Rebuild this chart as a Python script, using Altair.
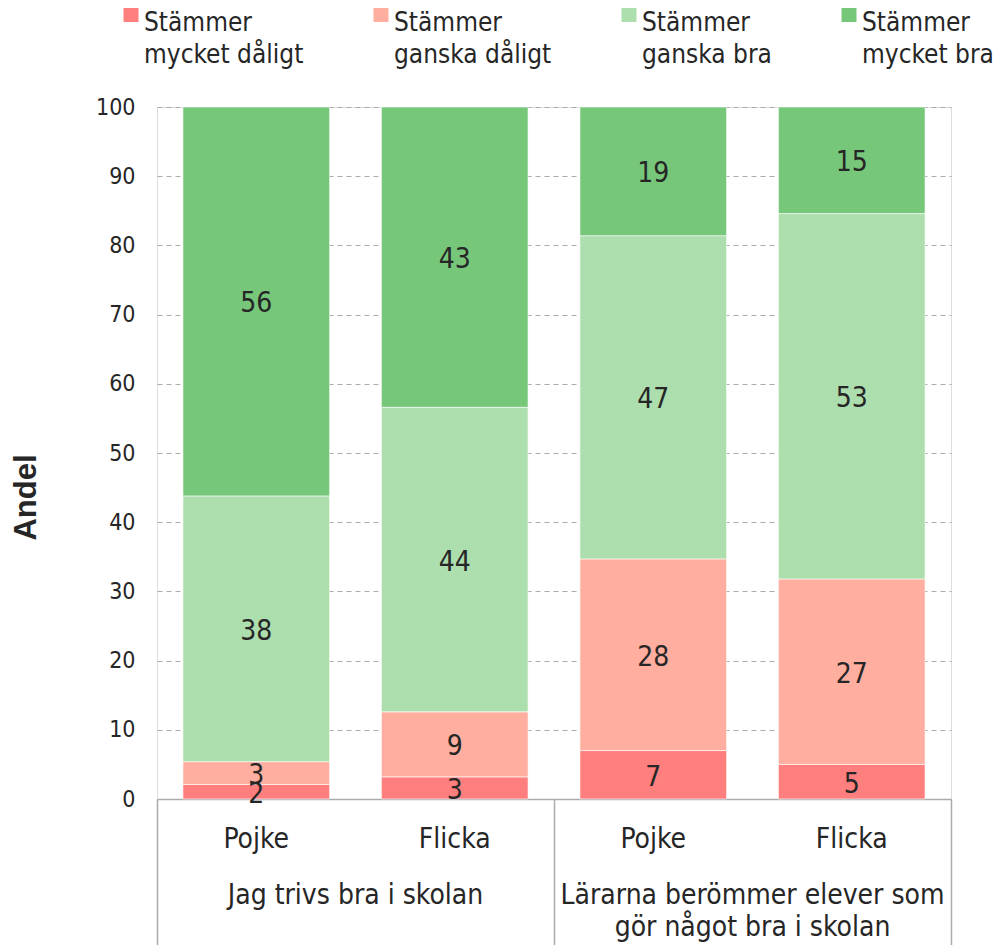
import altair as alt
import pandas as pd

FONT = "DejaVu Sans Condensed, DejaVu Sans, sans-serif"
TXT = "#262626"
AXC = "#ababab"

questions = ["Jag trivs bra i skolan", "Lärarna berömmer elever som gör något bra i skolan"]
question_text = ["Jag trivs bra i skolan", "Lärarna berömmer elever som\ngör något bra i skolan"]
genders = ["Pojke", "Flicka"]
bar_question = [questions[0], questions[0], questions[1], questions[1]]
bar_gender = ["Pojke", "Flicka", "Pojke", "Flicka"]
responses = ["Stämmer mycket dåligt", "Stämmer ganska dåligt", "Stämmer ganska bra", "Stämmer mycket bra"]
mycket_daligt = [2.1, 3.2, 7.0, 5.0]
ganska_daligt = [3.3, 9.4, 27.7, 26.8]
ganska_bra = [38.4, 44.0, 46.7, 52.8]
mycket_bra = [56.2, 43.4, 18.6, 15.4]
colors = ["#FF7F7F", "#FFAE9F", "#ADDEAE", "#77C77B"]

series = [mycket_daligt, ganska_daligt, ganska_bra, mycket_bra]
rows = []
for i in range(4):
    for k, (resp, vals) in enumerate(zip(responses, series)):
        rows.append({"q": bar_question[i], "g": bar_gender[i], "resp": resp,
                     "order": k, "value": vals[i]})
df = pd.DataFrame(rows)
gdf = pd.DataFrame({"q": bar_question, "g": bar_gender})
qdf = pd.DataFrame({"q": questions, "txt": question_text})

x_axis = alt.Axis(title=None, labels=False, domainColor=AXC, domainWidth=1.5,
                  tickColor=AXC, tickWidth=1.5, tickSize=150, tickBand="extent", grid=False)
x_enc = alt.X("q:N", sort=questions, scale=alt.Scale(paddingInner=0, paddingOuter=0), axis=x_axis)
xo_enc = alt.XOffset("g:N", sort=genders, scale=alt.Scale(paddingInner=0.261, paddingOuter=0.1307))

y_axis = alt.Axis(title="Andel", values=list(range(0, 101, 10)), ticks=False, domain=False,
                  labelFontSize=23, labelFont=FONT, labelColor=TXT, labelPadding=22,
                  gridDash=[5, 4], gridColor=AXC, gridWidth=1,
                  titleFont="Liberation Sans", titleFontWeight="bold", titleFontSize=31,
                  titleX=-122, titleY=390, titleAngle=270, titleBaseline="alphabetic",
                  titleColor=TXT)

legend = alt.Legend(title=None, orient="none", legendX=-39, legendY=-110,
                    direction="horizontal", columns=4, columnPadding=64,
                    symbolType="M-1,-0.4H1V1.6H-1Z", symbolSize=225, symbolStrokeWidth=0,
                    labelFontSize=26, labelFont=FONT, labelColor=TXT,
                    labelExpr="[slice(datum.label,0,7), slice(datum.label,8)]",
                    labelBaseline="top", labelOffset=0, labelLimit=0)

bars = alt.Chart(df).mark_bar(stroke="white", strokeWidth=0.6).encode(
    x=x_enc, xOffset=xo_enc,
    y=alt.Y("value:Q", stack="zero", scale=alt.Scale(domain=[0, 100], nice=False), axis=y_axis),
    color=alt.Color("resp:N", sort=responses, scale=alt.Scale(domain=responses, range=colors),
                    legend=legend),
    order=alt.Order("order:Q", sort="ascending"),
)

vlabels = alt.Chart(df).transform_stack(
    stack="value", as_=["v0", "v1"], groupby=["q", "g"],
    sort=[alt.SortField("order", order="ascending")]
).transform_calculate(mid="(datum.v0+datum.v1)/2").mark_text(
    font=FONT, fontSize=28, color=TXT, baseline="middle", dy=3
).encode(
    x=alt.X("q:N", sort=questions), xOffset=alt.XOffset("g:N", sort=genders),
    y=alt.Y("mid:Q"), text=alt.Text("value:Q", format=".0f"),
)

glabels = alt.Chart(gdf).mark_text(font=FONT, fontSize=28, color=TXT, baseline="alphabetic").encode(
    x=alt.X("q:N", sort=questions), xOffset=alt.XOffset("g:N", sort=genders),
    y=alt.value(741), text="g:N",
)

qlabels = alt.Chart(qdf).mark_text(font=FONT, fontSize=28, color=TXT, baseline="alphabetic",
                                   lineBreak="\n", lineHeight=32).encode(
    x=alt.X("q:N", sort=questions), y=alt.value(797), text="txt:N",
)

chart = alt.layer(bars, vlabels, glabels, qlabels).properties(
    width=794, height=692,
    autosize=alt.AutoSizeParams(type="none"),
    padding={"left": 149, "top": 99, "right": 43, "bottom": 146},
).configure_view(stroke=None).configure(style={"guide-label": {"lineHeight": 32}})

chart.save("out.html", embed_options={"renderer": "svg", "actions": False})
